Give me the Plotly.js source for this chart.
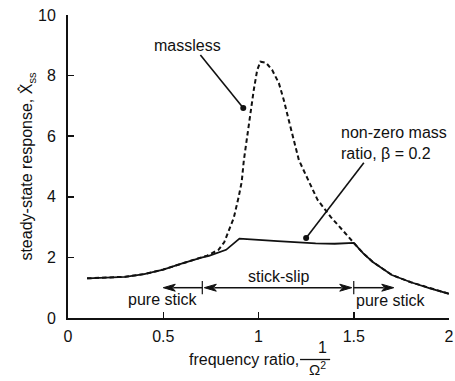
<!DOCTYPE html>
<html><head><meta charset="utf-8">
<script src="https://cdn.plot.ly/plotly-3.0.1.min.js"></script>
<style>html,body{margin:0;padding:0;background:#fff}</style>
</head><body><div id="chart" style="width:455px;height:381px"></div>
<script>
// frequency ratio 1/Omega^2 and steady-state response, non-zero mass ratio (beta = 0.2)
const freqWithMass = [0.1, 0.2, 0.3, 0.4, 0.5, 0.6, 0.65, 0.7, 0.74, 0.83, 0.9, 0.95, 1.0, 1.1, 1.2, 1.3, 1.4, 1.5, 1.55, 1.6, 1.7, 1.8, 1.9, 2.0];
const respWithMass = [1.31, 1.33, 1.36, 1.45, 1.6, 1.8, 1.9, 1.99, 2.05, 2.25, 2.62, 2.61, 2.58, 2.54, 2.49, 2.46, 2.45, 2.48, 2.13, 1.85, 1.42, 1.18, 0.98, 0.8];
// massless system
const freqMassless = [0.1, 0.2, 0.3, 0.4, 0.5, 0.6, 0.65, 0.7, 0.73, 0.79, 0.82, 0.845, 0.87, 0.896, 0.912, 0.923, 0.94, 0.958, 0.975, 0.993, 1.01, 1.04, 1.072, 1.107, 1.133, 1.16, 1.186, 1.212, 1.265, 1.31, 1.38, 1.45, 1.5, 1.55, 1.6, 1.7, 1.8, 1.9, 2.0];
const respMassless = [1.31, 1.33, 1.36, 1.45, 1.6, 1.8, 1.9, 1.99, 2.06, 2.25, 2.5, 2.9, 3.3, 4.0, 4.5, 5.2, 5.98, 6.64, 7.52, 8.18, 8.46, 8.42, 8.18, 7.75, 7.19, 6.5, 5.85, 5.21, 4.5, 3.9, 3.33, 2.84, 2.48, 2.13, 1.85, 1.42, 1.18, 0.98, 0.8];
// callout dots (massless, non-zero mass)
const calloutX = [0.92, 1.25];
const calloutY = [6.93, 2.64];
// regime bounds
const pureStickLeftEnd = 0.5;
const stickSlipStart = 0.705;
const stickSlipEnd = 1.5;
const pureStickRightEnd = 1.71;
const regimeArrowY = 1.0;
const xTickVals = [0, 0.5, 1, 1.5, 2];
const xTickText = ['0', '0.5', '1', '1.5', '2'];
const yTickVals = [0, 2, 4, 6, 8, 10];

const FONT = 'Liberation Sans, Arial, Helvetica, sans-serif';
const TXT = '#111';
const W = 455, H = 381, M = {l: 68, r: 6, t: 15, b: 63};
const PX_X = 2 / (W - M.l - M.r), PX_Y = 10 / (H - M.t - M.b);

function head(xTip, yv, d) {
  const L = 12 * PX_X, h = 3.5 * PX_Y, n = 3 * PX_X;
  const bx = xTip - d * L, nx = xTip - d * (L - n);
  return {type: 'path', xref: 'x', yref: 'y', fillcolor: '#111', line: {color: '#111', width: 1},
    path: `M${xTip},${yv} L${bx},${yv + h} L${nx},${yv} L${bx},${yv - h} Z`};
}
function seg(x0, y0, x1, y1, w) {
  return {type: 'line', xref: 'x', yref: 'y', x0, y0, x1, y1, line: {color: '#111', width: w || 1.5}};
}

const shapes = [
  seg(0.695, 8.68, calloutX[0], calloutY[0], 1.6),
  seg(1.553, 5.12, calloutX[1], calloutY[1], 1.6),
  seg(stickSlipStart, regimeArrowY - 0.22, stickSlipStart, regimeArrowY + 0.22, 1.2),
  seg(stickSlipEnd, regimeArrowY - 0.22, stickSlipEnd, regimeArrowY + 0.22, 1.2),
  seg(pureStickLeftEnd + 10 * PX_X, regimeArrowY, stickSlipStart, regimeArrowY, 1.5),
  head(pureStickLeftEnd, regimeArrowY, -1),
  seg(stickSlipStart + 12 * PX_X, regimeArrowY, stickSlipEnd - 12 * PX_X, regimeArrowY, 1.5),
  head(stickSlipStart + 2 * PX_X, regimeArrowY, -1),
  head(stickSlipEnd - 2 * PX_X, regimeArrowY, 1),
  seg(stickSlipEnd, regimeArrowY, pureStickRightEnd - 10 * PX_X, regimeArrowY, 1.5),
  head(pureStickRightEnd, regimeArrowY, 1),
  {type: 'line', xref: 'paper', yref: 'paper', x0: 0.609, x1: 0.688, y0: -0.137, y1: -0.137, line: {color: TXT, width: 1.3}}
];

const f = {family: FONT, size: 16, color: TXT};
function note(text, x, y, ref, extra) {
  return Object.assign({text, x, y, xref: ref ? 'paper' : 'x', yref: ref ? 'paper' : 'y',
    xanchor: 'center', yanchor: 'middle', showarrow: false, font: f}, extra || {});
}
const annotations = [
  note('massless', 0.629, 9.01),
  note('non-zero mass<br>ratio, β = 0.2', 1.42, 5.78, false, {xanchor: 'left', align: 'left'}),
  note('stick-slip', 1.105, 1.36),
  note('pure stick', 0.495, 0.6),
  note('pure stick', 1.695, 0.58),
  note('frequency ratio,', 0.462, -0.137, true),
  note('1', 0.667, -0.097, true),
  note('Ω<sup>2</sup>', 0.655, -0.168, true, {font: {family: FONT, size: 15, color: TXT}})
];

const traces = [
  {x: freqMassless, y: respMassless, mode: 'lines', line: {color: '#111', width: 2, dash: '4.5px,3px'}, hoverinfo: 'skip'},
  {x: freqWithMass, y: respWithMass, mode: 'lines', line: {color: '#111', width: 1.8}, hoverinfo: 'skip'},
  {x: calloutX, y: calloutY, mode: 'markers', marker: {color: '#111', size: 6}, hoverinfo: 'skip'}
];

const axisCommon = {showgrid: false, zeroline: false, showline: true, linecolor: '#111', linewidth: 2,
  ticks: 'inside', ticklen: 6, tickwidth: 1.5, tickcolor: '#111', tickfont: {family: FONT, size: 16, color: TXT}};

const layout = {
  width: W, height: H, margin: M, showlegend: false,
  paper_bgcolor: '#fff', plot_bgcolor: '#fff',
  xaxis: Object.assign({}, axisCommon, {range: [0, 2], tickvals: xTickVals, ticktext: xTickText, ticklabelstandoff: 3}),
  yaxis: Object.assign({}, axisCommon, {range: [0, 10], tickvals: yTickVals, ticklabelstandoff: 7,
    title: {text: 'steady-state response, X̂<sub>ss</sub>', font: {family: FONT, size: 16, color: TXT}, standoff: 1}}),
  shapes, annotations
};
Plotly.newPlot('chart', traces, layout, {displayModeBar: false, staticPlot: true});
</script></body></html>
